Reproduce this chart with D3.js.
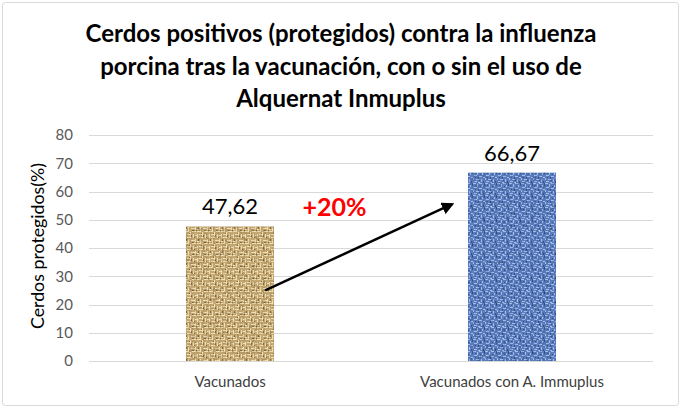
<!DOCTYPE html>
<html>
<head>
<meta charset="utf-8">
<script src="https://cdn.jsdelivr.net/npm/d3@7"></script>
<style>
  body { margin: 0; background: #fff; }
  text { font-family: Lato, "Open Sans", sans-serif; }
</style>
</head>
<body>
<div id="chart"></div>
<script>
// Data
const categories = ['Vacunados', 'Vacunados con A. Immuplus'];
const protectedPct = [47.62, 66.67];
const yTicks = [0, 10, 20, 30, 40, 50, 60, 70, 80];
const titleLines = [
    'Cerdos positivos (protegidos) contra la influenza',
    'porcina tras la vacunación, con o sin el uso de',
    'Alquernat Inmuplus'
];
const increaseLabel = '+20%';

const W = 681, H = 416;
const margin = { top: 135, right: 28, bottom: 55, left: 89 };
const width = W - margin.left - margin.right;
const height = H - margin.top - margin.bottom;

const svg = d3.select('#chart')
    .append('svg')
    .attr('width', W)
    .attr('height', H);

// Fabric textures
const defs = svg.append('defs');

function weave(id, size, base, light, dark, lightCells, darkCells) {
    const p = defs.append('pattern')
        .attr('id', id)
        .attr('patternUnits', 'userSpaceOnUse')
        .attr('width', size).attr('height', size);
    p.append('rect').attr('width', size).attr('height', size).attr('fill', base);
    lightCells.forEach(r => {
        p.append('rect').attr('x', r[0]).attr('y', r[1]).attr('width', r[2]).attr('height', r[3]).attr('fill', light);
    });
    darkCells.forEach(r => {
        p.append('rect').attr('x', r[0]).attr('y', r[1]).attr('width', r[2]).attr('height', r[3]).attr('fill', dark);
    });
}

weave('burlap', 12, '#c6a872', '#eedfb4', '#8c6d3c',
    [[0, 0, 4, 1], [5, 1, 1, 4], [7, 0, 4, 1], [0, 3, 1, 4], [2, 3, 3, 1], [8, 3, 1, 4],
     [10, 4, 2, 1], [2, 6, 4, 1], [3, 8, 1, 4], [6, 9, 4, 1], [0, 10, 2, 1], [10, 8, 1, 3]],
    [[4, 2, 1, 1], [9, 6, 1, 1], [1, 8, 1, 2], [6, 4, 1, 2], [11, 11, 1, 1], [7, 11, 2, 1]]);

weave('denim', 12, '#5b7dbf', '#a3bfee', '#34558f',
    [[0, 0, 3, 1], [4, 1, 1, 3], [6, 0, 3, 1], [9, 2, 1, 2], [1, 4, 3, 1], [6, 5, 3, 1],
     [0, 7, 1, 2], [3, 8, 3, 1], [8, 8, 1, 3], [10, 6, 2, 1], [1, 10, 3, 1], [5, 11, 2, 1]],
    [[2, 2, 1, 1], [7, 3, 1, 1], [11, 0, 1, 3], [5, 6, 1, 2], [2, 6, 1, 1], [10, 10, 1, 2], [6, 9, 1, 1]]);

// Subtle grain on top of the weave
const grain = defs.append('filter').attr('id', 'grain').attr('x', 0).attr('y', 0).attr('width', 1).attr('height', 1);
grain.append('feTurbulence').attr('type', 'fractalNoise').attr('baseFrequency', 0.3).attr('numOctaves', 2).attr('seed', 3).attr('result', 'noise');
grain.append('feColorMatrix').attr('in', 'noise').attr('type', 'matrix')
    .attr('values', '0 0 0 0 0  0 0 0 0 0  0 0 0 0 0  0 0 0 -1 0.55').attr('result', 'shade');
grain.append('feComposite').attr('in', 'shade').attr('in2', 'SourceGraphic').attr('operator', 'atop');

defs.append('marker')
    .attr('id', 'arrowhead')
    .attr('viewBox', '0 0 10 10')
    .attr('refX', 8).attr('refY', 5)
    .attr('markerWidth', 5).attr('markerHeight', 5)
    .attr('orient', 'auto')
    .append('path')
    .attr('d', 'M0,0 L10,5 L0,10 z')
    .attr('fill', '#000');

// Chart border
svg.append('rect')
    .attr('x', 2.5).attr('y', 2.5)
    .attr('width', W - 5).attr('height', H - 13)
    .attr('rx', 3)
    .attr('fill', '#fff')
    .attr('stroke', '#d9d9d9');

// Title
svg.append('text')
    .attr('x', 341)
    .attr('y', 42)
    .attr('text-anchor', 'middle')
    .attr('font-size', 24)
    .attr('font-weight', 'bold')
    .attr('fill', '#000')
    .selectAll('tspan')
    .data(titleLines)
    .enter()
    .append('tspan')
    .attr('x', 341)
    .attr('dy', (d, i) => i === 0 ? 0 : 32.5)
    .text(d => d);

const g = svg.append('g')
    .attr('transform', `translate(${margin.left},${margin.top})`);

// Scales
const xScale = d3.scaleBand()
    .domain(categories)
    .range([0, width])
    .paddingInner(0.688)
    .paddingOuter(0.344);

const yScale = d3.scaleLinear()
    .domain([0, 80])
    .range([height, 0]);

// Gridlines
g.append('g')
    .attr('class', 'grid')
    .selectAll('line')
    .data(yTicks)
    .enter()
    .append('line')
    .attr('x1', 0)
    .attr('x2', width)
    .attr('y1', d => Math.round(yScale(d)) + 0.5)
    .attr('y2', d => Math.round(yScale(d)) + 0.5)
    .attr('stroke', '#d9d9d9');

// Y axis (labels only)
const yAxis = g.append('g')
    .call(d3.axisLeft(yScale).tickValues(yTicks).tickSize(0).tickPadding(16));
yAxis.select('.domain').remove();
yAxis.selectAll('text')
    .attr('font-size', 15)
    .attr('fill', '#595959')
    .style('font-family', 'Lato, sans-serif');

// X axis (labels only)
const xAxis = g.append('g')
    .attr('transform', `translate(0,${height})`)
    .call(d3.axisBottom(xScale).tickSize(0).tickPadding(15));
xAxis.select('.domain').remove();
xAxis.selectAll('text')
    .attr('font-size', 15)
    .attr('fill', '#404040')
    .style('font-family', 'Lato, sans-serif');

// Y axis label
g.append('text')
    .attr('transform', 'rotate(-90)')
    .attr('x', -height / 2 + 2)
    .attr('y', -45)
    .attr('text-anchor', 'middle')
    .attr('font-size', 17)
    .attr('textLength', 166)
    .attr('lengthAdjust', 'spacingAndGlyphs')
    .attr('fill', '#000')
    .text('Cerdos protegidos(%)');

// Bars
const fills = ['url(#burlap)', 'url(#denim)'];
g.selectAll('.bar')
    .data(protectedPct)
    .enter()
    .append('rect')
    .attr('class', 'bar')
    .attr('x', (d, i) => xScale(categories[i]))
    .attr('y', d => yScale(d))
    .attr('width', xScale.bandwidth())
    .attr('height', d => height - yScale(d))
    .attr('fill', (d, i) => fills[i])
    .attr('filter', 'url(#grain)');

// Value labels
g.selectAll('.bar-label')
    .data(protectedPct)
    .enter()
    .append('text')
    .attr('class', 'bar-label')
    .attr('x', (d, i) => xScale(categories[i]) + xScale.bandwidth() / 2)
    .attr('y', d => yScale(d) - 12)
    .attr('text-anchor', 'middle')
    .attr('font-size', 22)
    .attr('fill', '#000')
    .text(d => d3.format('.2f')(d).replace('.', ','));

// Arrow from first bar to second bar
const x0 = xScale(categories[0]) + xScale.bandwidth() * 0.9;
const x1 = xScale(categories[1]) - 16;
g.append('line')
    .attr('x1', x0)
    .attr('y1', yScale(25))
    .attr('x2', x1)
    .attr('y2', yScale(55.5))
    .attr('stroke', '#000')
    .attr('stroke-width', 2.5)
    .attr('marker-end', 'url(#arrowhead)');

g.append('text')
    .attr('x', (x0 + x1) / 2 - 24)
    .attr('y', yScale(51.5))
    .attr('text-anchor', 'middle')
    .attr('font-size', 25)
    .attr('font-weight', 'bold')
    .attr('fill', '#ff0000')
    .text(increaseLabel);
</script>
</body>
</html>
